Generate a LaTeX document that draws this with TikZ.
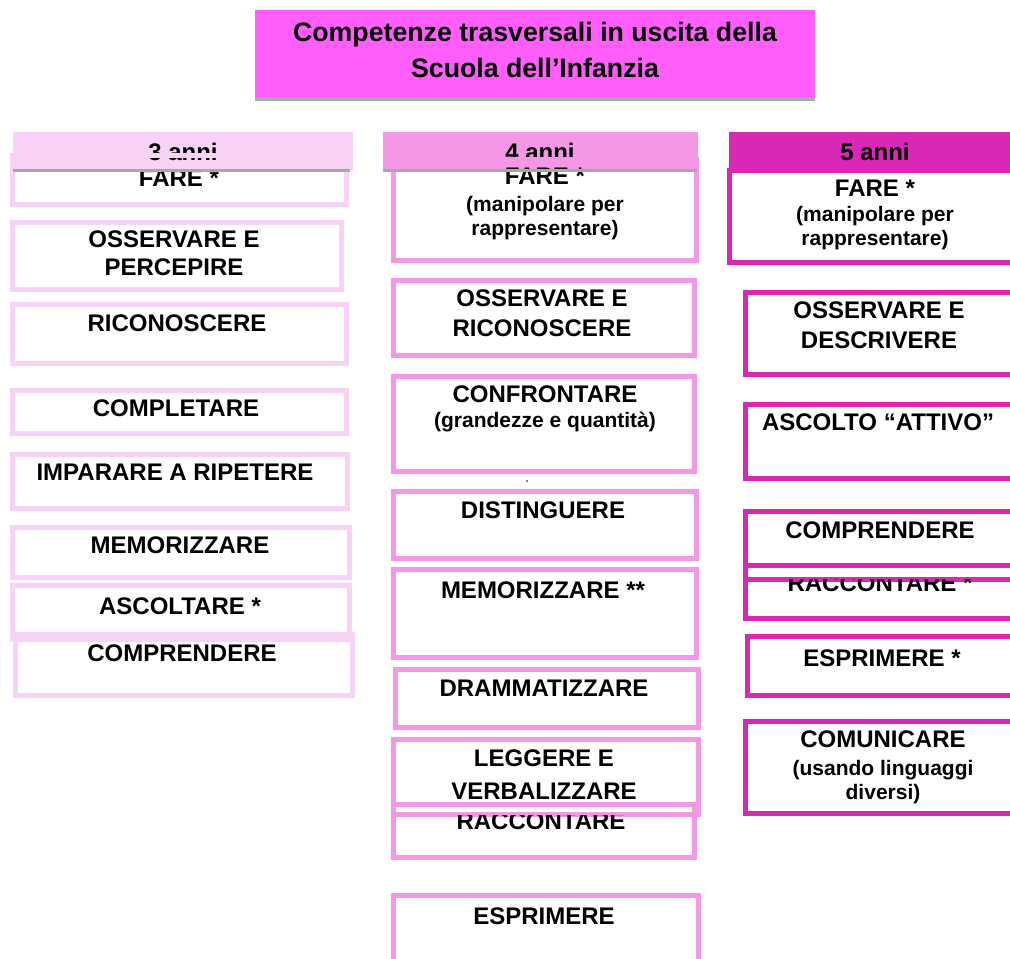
\documentclass[tikz,border=0pt]{standalone}
\usepackage{fontspec}
\setmainfont{Liberation Sans}
\definecolor{cA}{HTML}{F8D3F6}
\definecolor{cB}{HTML}{F497E6}
\definecolor{cC}{HTML}{DA28B6}
\definecolor{titlec}{HTML}{FF5EFA}
\definecolor{grayb}{HTML}{A8A8A8}
\newcommand\bx[6]{\node[#2, minimum width={#5-#3-5}, minimum height={#6-#4-5}] (#1) at ({(#3+#5)/2},{(#4+#6)/2}) {};}
\newcommand\subf{\fontsize{21}{24}\selectfont}
\begin{document}
\begin{tikzpicture}[x=1pt,y=-1pt,
  bxA/.style={draw=cA, line width=5pt, inner sep=0pt, outer sep=0pt},
  bxB/.style={draw=cB, line width=5pt, inner sep=0pt, outer sep=0pt},
  bxC/.style={draw=cC, line width=5pt, inner sep=0pt, outer sep=0pt},
  lbl/.style={anchor=north, inner sep=0pt, align=center, text=black, font=\fontsize{24}{28}\selectfont\bfseries},
  hdr/.style={inner sep=0pt, outer sep=0pt, anchor=north west}]
\useasboundingbox (0,0) rectangle (1010,959);
\clip (0,0) rectangle (1010,959);
% title
\node[hdr, fill=titlec, minimum width=560, minimum height=87] (title) at (255,10) {};
\fill[grayb] (255,97) rectangle (815,101);
\node[lbl, font=\fontsize{26.7}{36.5}\selectfont\bfseries] (titlet) at (535,21.5) {Competenze trasversali in uscita della\\Scuola dell’Infanzia};
% headers
\node[hdr, fill=cA, minimum width=340, minimum height=38] (h1) at (13,132) {};
\node[hdr, fill=cB, minimum width=315, minimum height=38] (h2) at (383,132) {};
\node[hdr, fill=cC, minimum width=290, minimum height=36] (h3) at (729,132) {};
\begin{scope}
\clip (13,132) rectangle (353,160.5);
\node[lbl] (h1t) at (183,143) {3 anni};
\end{scope}
\begin{scope}
\clip (383,132) rectangle (697,158.5);
\node[lbl] (h2t) at (540,143) {4 anni};
\end{scope}
\node[lbl] (h3t) at (875,143) {5 anni};
% column 1
\bx{a1}{bxA}{10}{153}{349}{207}
\bx{a2}{bxA}{10}{220}{344}{292}
\bx{a3}{bxA}{10}{302}{349}{366}
\bx{a4}{bxA}{10}{388}{349}{436}
\bx{a5}{bxA}{10}{452}{350}{511}
\bx{a6}{bxA}{10}{525}{352}{580}
\bx{a7}{bxA}{10}{583}{352}{642}
\bx{a8}{bxA}{13}{632}{355}{698}
\node[lbl] (a1t) at (179,170) {FARE *};
\node[lbl, font=\fontsize{24}{27.5}\selectfont\bfseries] (a2t) at (174,231) {OSSERVARE E\\PERCEPIRE};
\node[lbl] (a3t) at (177,315) {RICONOSCERE};
\node[lbl] (a4t) at (176,400) {COMPLETARE};
\node[lbl] (a5t) at (175,464) {IMPARARE A RIPETERE};
\node[lbl] (a6t) at (180,537) {MEMORIZZARE};
\node[lbl] (a7t) at (180,598) {ASCOLTARE *};
\node[lbl] (a8t) at (182,645) {COMPRENDERE};
% column 2
\bx{b1}{bxB}{391}{157}{699}{263}
\bx{b2}{bxB}{391}{278}{697}{358}
\bx{b3}{bxB}{391}{374}{697}{474}
\bx{b4}{bxB}{391}{489}{699}{561}
\bx{b5}{bxB}{391}{567}{699}{660}
\bx{b6}{bxB}{393}{667}{701}{730}
\bx{b7}{bxB}{391}{737}{701}{817}
\bx{b8}{bxB}{391}{802}{697}{860}
\bx{b9}{bxB}{391}{893}{701}{990}
\node[lbl, font=\fontsize{24}{27}\selectfont\bfseries] (b1t) at (545,168) {FARE *\\{\subf (manipolare per}\\[-3pt]{\subf rappresentare)}};
\node[lbl, font=\fontsize{24}{30}\selectfont\bfseries] (b2t) at (542,290) {OSSERVARE E\\RICONOSCERE};
\node[lbl, font=\fontsize{24}{25}\selectfont\bfseries] (b3t) at (545,386) {CONFRONTARE\\{\subf (grandezze e quantità)}};
\fill (527,481) circle (0.8);
\node[lbl] (b4t) at (543,502) {DISTINGUERE};
\node[lbl] (b5t) at (543,582) {MEMORIZZARE **};
\node[lbl] (b6t) at (544,680) {DRAMMATIZZARE};
\node[lbl, font=\fontsize{24}{33}\selectfont\bfseries] (b7t) at (544,750) {LEGGERE E\\VERBALIZZARE};
\begin{scope}
\clip (391,815) rectangle (697,860);
\node[lbl] (b8t) at (541,813) {RACCONTARE};
\end{scope}
\node[lbl] (b9t) at (544,908) {ESPRIMERE};
% column 3
\bx{c1}{bxC}{727}{168}{1040}{265}
\bx{c2}{bxC}{743}{290}{1040}{377}
\bx{c3}{bxC}{743}{402}{1040}{481}
\bx{c4}{bxC}{743}{509}{1040}{582}
\bx{c5}{bxC}{743}{563}{1040}{621}
\bx{c6}{bxC}{745}{634}{1040}{698}
\bx{c7}{bxC}{743}{719}{1040}{816}
\node[lbl, font=\fontsize{24}{25}\selectfont\bfseries] (c1t) at (875,180) {FARE *\\{\subf (manipolare per}\\[-1pt]{\subf rappresentare)}};
\node[lbl, font=\fontsize{24}{30}\selectfont\bfseries] (c2t) at (879,302) {OSSERVARE E\\DESCRIVERE};
\node[lbl] (c3t) at (878,414) {ASCOLTO “ATTIVO”};
\node[lbl] (c4t) at (880,522) {COMPRENDERE};
\begin{scope}
\clip (743,579) rectangle (1010,621);
\node[lbl] (c5t) at (880,575) {RACCONTARE *};
\end{scope}
\node[lbl] (c6t) at (882,650) {ESPRIMERE *};
\node[lbl, font=\fontsize{24}{28}\selectfont\bfseries] (c7t) at (883,731) {COMUNICARE\\{\subf (usando linguaggi}\\[-4pt]{\subf diversi)}};
% header shadow lines
\fill[grayb] (13,169) rectangle (350,172);
\fill[grayb] (383,169) rectangle (697,172);
\end{tikzpicture}
\end{document}
